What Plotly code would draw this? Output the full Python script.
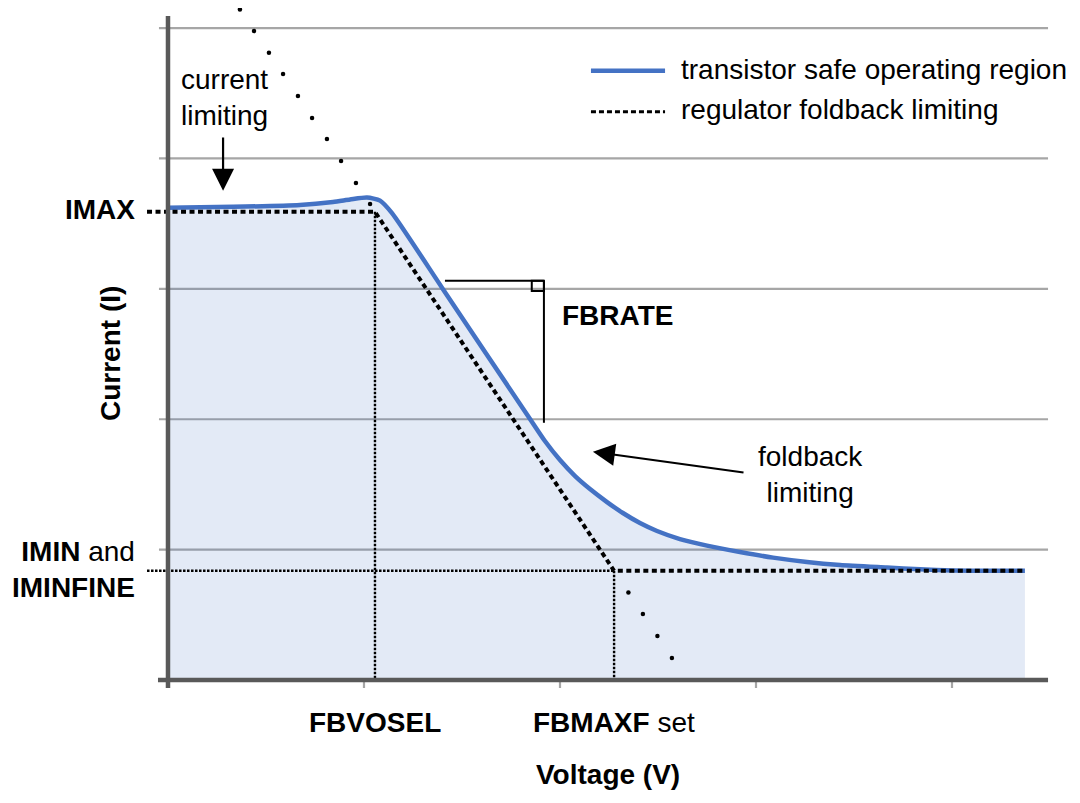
import plotly.graph_objects as go

# transistor safe operating region (blue curve), voltage vs current in grid units
soa_v = [0.000, 0.332, 0.673, 0.842, 0.929, 1.015, 1.082, 1.143, 1.403, 1.847, 1.923, 2.000,
         2.077, 2.153, 2.240, 2.321, 2.408, 2.495, 2.612, 2.750, 2.918, 3.087, 3.260, 3.429,
         3.668, 3.837, 4.005, 4.194, 4.372]
soa_i = [3.623, 3.629, 3.643, 3.666, 3.685, 3.700, 3.677, 3.581, 2.998, 2.002, 1.833, 1.687,
         1.564, 1.465, 1.365, 1.281, 1.204, 1.143, 1.081, 1.031, 0.982, 0.939, 0.906, 0.883,
         0.863, 0.849, 0.841, 0.838, 0.838]

# regulator foldback limiting
imax = 3.591
imin = 0.838
fbvosel = 1.056
fbmaxf = 2.276
v_end = 4.372
v_lead = -0.107  # dashed leader out to the IMAX / IMIN labels

fold_v = [v_lead, fbvosel, fbmaxf, v_end]
fold_i = [imax, imax, imin, imin]

# continuation of the foldback slope (sparse dots)
ext_hi_v = [0.367, 0.439, 0.515, 0.587, 0.663, 0.735, 0.811, 0.883, 0.959, 1.031]
ext_hi_i = [5.143, 4.977, 4.811, 4.647, 4.479, 4.310, 4.149, 3.980, 3.811, 3.650]
ext_lo_v = [2.349, 2.423, 2.497, 2.571]
ext_lo_i = [0.671, 0.506, 0.337, 0.169]

grid_i = [1, 2, 3, 4, 5]
tick_v = [1, 2, 3, 4]

X_RANGE = [-0.153, 4.551]
Y_RANGE = [-0.199, 5.154]

FONT = "Liberation Sans, Arial, sans-serif"
BLUE = "#4472C4"


def xp(v):
    return (v - X_RANGE[0]) / (X_RANGE[1] - X_RANGE[0])


def yp(i):
    return (i - Y_RANGE[0]) / (Y_RANGE[1] - Y_RANGE[0])


fig = go.Figure()

# filled region under the safe operating curve
fig.add_trace(go.Scatter(x=soa_v, y=soa_i, mode="lines", fill="tozeroy",
                         fillcolor="rgba(68,114,196,0.15)",
                         line=dict(color=BLUE, width=4.5, shape="spline", smoothing=0.6),
                         showlegend=False, hoverinfo="skip"))

# fine dotted guides
guide = dict(color="black", width=2.4, dash="2.5px,1.5px")
fig.add_trace(go.Scatter(x=[v_lead, fbmaxf], y=[imin, imin], mode="lines", line=guide,
                         showlegend=False, hoverinfo="skip"))
fig.add_trace(go.Scatter(x=[fbvosel, fbvosel], y=[imax, 0], mode="lines", line=guide,
                         showlegend=False, hoverinfo="skip"))
fig.add_trace(go.Scatter(x=[fbmaxf, fbmaxf], y=[imin, 0], mode="lines", line=guide,
                         showlegend=False, hoverinfo="skip"))

# regulator foldback line
fig.add_trace(go.Scatter(x=fold_v, y=fold_i, mode="lines",
                         line=dict(color="black", width=4, dash="5px,3.5px"),
                         showlegend=False, hoverinfo="skip"))

# sparse dots extending the slope
fig.add_trace(go.Scatter(x=ext_hi_v + ext_lo_v, y=ext_hi_i + ext_lo_i, mode="markers",
                         marker=dict(color="black", size=4.5), cliponaxis=False,
                         showlegend=False, hoverinfo="skip"))

shapes = []
for g in grid_i:
    shapes.append(dict(type="line", x0=-0.046, x1=4.49, y0=g, y1=g, layer="below",
                       line=dict(color="#a6a6a6", width=2.2)))
for t in tick_v:
    shapes.append(dict(type="line", x0=t, x1=t, y0=0, y1=-0.061, layer="below",
                       line=dict(color="#a6a6a6", width=2.2)))
# axis lines
shapes.append(dict(type="line", x0=-0.051, x1=4.49, y0=0, y1=0,
                   line=dict(color="#595959", width=4.5)))
shapes.append(dict(type="line", x0=0, x1=0, y0=-0.061, y1=5.092,
                   line=dict(color="#595959", width=4.5)))
# FBRATE bracket
shapes.append(dict(type="line", x0=1.413, x1=1.918, y0=3.062, y1=3.062,
                   line=dict(color="black", width=2)))
shapes.append(dict(type="line", x0=1.918, x1=1.918, y0=3.062, y1=1.973,
                   line=dict(color="black", width=2)))
shapes.append(dict(type="rect", x0=1.856, x1=1.918, y0=2.983, y1=3.062,
                   line=dict(color="black", width=2)))
# legend samples
shapes.append(dict(type="line", x0=2.158, x1=2.536, y0=4.672, y1=4.672,
                   line=dict(color=BLUE, width=4.5)))
shapes.append(dict(type="line", x0=2.158, x1=2.536, y0=4.358, y1=4.358,
                   line=dict(color="black", width=3, dash="5px,3px")))

txt = dict(family=FONT, size=28, color="black")
labels = [
    dict(x=2.607, y=4.686, text="transistor safe operating region", xanchor="left"),
    dict(x=2.607, y=4.379, text="regulator foldback limiting", xanchor="left"),
    dict(x=0.286, y=4.471, text="current<br>limiting", align="center"),
    dict(x=-0.158, y=3.612, text="<b>IMAX</b>", xanchor="right"),
    dict(x=-0.158, y=0.844, text="<b>IMIN</b> and<br><b>IMINFINE</b>", xanchor="right", align="right"),
    dict(x=2.291, y=2.799, text="<b>FBRATE</b>"),
    dict(x=3.276, y=1.580, text="foldback<br>limiting", align="center"),
    dict(x=fbvosel, y=-0.322, text="<b>FBVOSEL</b>"),
    dict(x=fbmaxf, y=-0.322, text="<b>FBMAXF</b> set"),
    dict(x=2.245, y=-0.721, text="<b>Voltage (V)</b>"),
    dict(x=-0.296, y=2.508, text="<b>Current (I)</b>", textangle=-90),
]
annotations = []
for a in labels:
    a["x"] = xp(a["x"])
    a["y"] = yp(a["y"])
    a.update(xref="paper", yref="paper", showarrow=False, font=txt, yanchor="middle")
    a.setdefault("xanchor", "center")
    annotations.append(a)

# arrows
annotations.append(dict(x=0.281, y=3.752, ax=0.281, ay=4.172, xref="x", yref="y",
                        axref="x", ayref="y", text="", showarrow=True, arrowhead=2,
                        arrowsize=2, arrowwidth=2.2, arrowcolor="black", standoff=0))
annotations.append(dict(x=2.168, y=1.751, ax=2.944, ay=1.590, xref="x", yref="y",
                        axref="x", ayref="y", text="", showarrow=True, arrowhead=2,
                        arrowsize=2, arrowwidth=2.2, arrowcolor="black", standoff=0))

# page body adds an 8px margin, so the figure is sized to fit inside it
fig.update_layout(
    width=1072, height=787,
    margin=dict(l=130, r=20, t=0, b=89),
    plot_bgcolor="white", paper_bgcolor="white",
    shapes=shapes, annotations=annotations,
    showlegend=False,
    xaxis=dict(range=X_RANGE, showgrid=False, zeroline=False, showline=False,
               showticklabels=False, ticks="", automargin=False),
    yaxis=dict(range=Y_RANGE, showgrid=False, zeroline=False, showline=False,
               showticklabels=False, ticks="", automargin=False),
)

fig.write_html("out.html")
